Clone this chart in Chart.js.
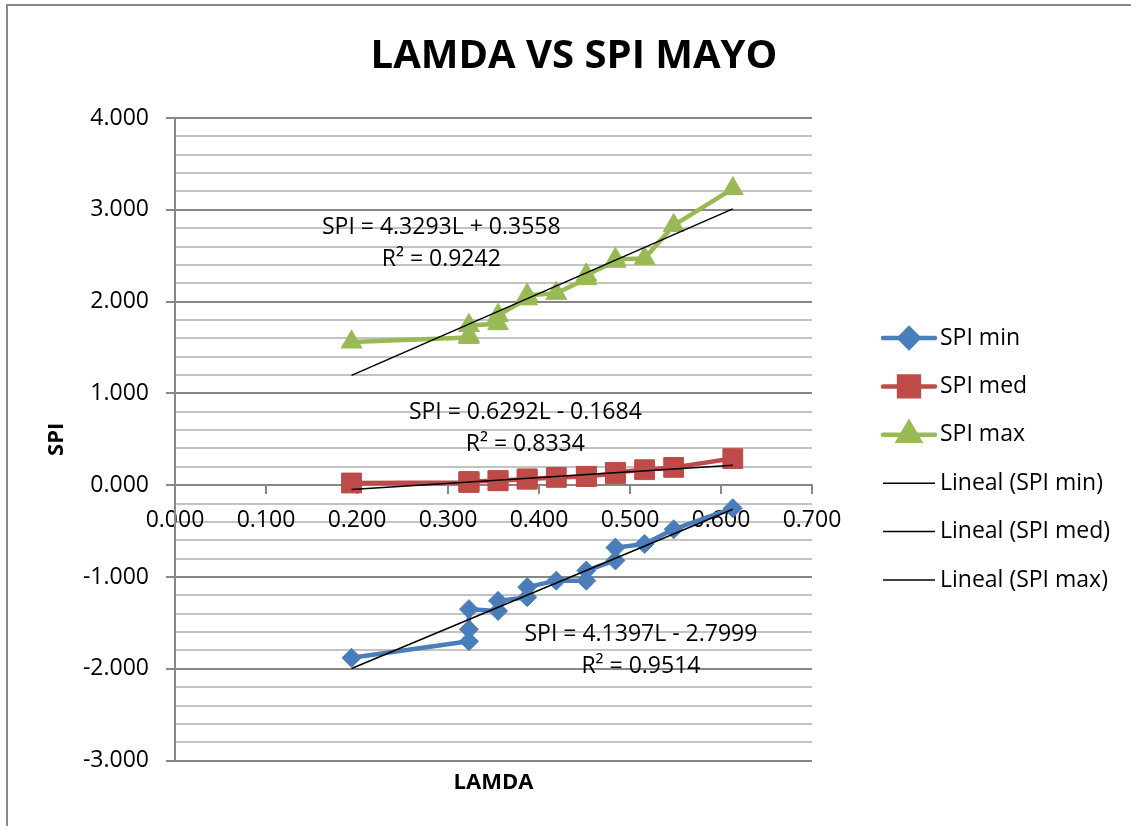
<!DOCTYPE html>
<html>
<head>
<meta charset="utf-8">
<title>LAMDA VS SPI MAYO</title>
<script src="https://cdn.jsdelivr.net/npm/chart.js@4.4.1/dist/chart.umd.min.js"></script>
<style>
  html, body { margin: 0; padding: 0; background: #fff; overflow: hidden; }
  #frame { position: absolute; left: 6px; top: 4px; width: 1200px; height: 900px; border: 2px solid #898989; }
  #chart { position: absolute; left: 0; top: 0; }
</style>
</head>
<body>
<div id="frame"></div>
<canvas id="chart" width="1131" height="826"></canvas>
<script>
// lamda = share of days in May, one value per row
const lamda  = [0.194, 0.323, 0.323, 0.323, 0.355, 0.355, 0.387, 0.387, 0.419, 0.452, 0.452, 0.484, 0.484, 0.516, 0.548, 0.613];
const spiMin = [-1.88, -1.70, -1.57, -1.35, -1.37, -1.26, -1.22, -1.11, -1.04, -1.04, -0.93, -0.82, -0.68, -0.64, -0.48, -0.25];
const spiMed = [0.024, 0.030, 0.035, 0.040, 0.048, 0.050, 0.066, 0.068, 0.085, 0.095, 0.097, 0.125, 0.140, 0.169, 0.194, 0.290];
const spiMax = [1.56, 1.61, 1.63, 1.74, 1.76, 1.85, 2.03, 2.07, 2.09, 2.25, 2.29, 2.44, 2.46, 2.47, 2.83, 3.23];

const seriesNames = ['SPI min', 'SPI med', 'SPI max'];
const seriesColors = ['#4a7ebb', '#be4b48', '#98b954'];
const markerStyles = ['rectRot', 'rect', 'triangle'];
const markerRadius = [9.5, 14, 12];

// linear trendlines: SPI = slope * L + intercept
const trendSlopes = [4.1397, 0.6292, 4.3293];
const trendIntercepts = [-2.7999, -0.1684, 0.3558];
const trendR2 = ['0.9514', '0.8334', '0.9242'];

// y axis: major lines every 1, minor every 0.2 -> 36 lines from -3 to 4
const yMin = -3, yMax = 4, yLineCount = 36;
const xMin = 0, xMax = 0.7, xStep = 0.1;

// where each trend equation is written (centre of the two lines, in data units)
const equationAnchors = [
  { x: 0.512, y: -1.805 },
  { x: 0.385, y: 0.616 },
  { x: 0.2926, y: 2.634 }
];

Chart.defaults.font.family = '"Open Sans", sans-serif';
Chart.defaults.color = '#000';

const FONT_SIZE = 23;
const MAJOR = '#878787';
const MINOR = '#c3c3c3';

const isWhole = v => Math.abs(v - Math.round(v)) < 1e-6;

const allSeries = [spiMin, spiMed, spiMax];
const lo = Math.min(...lamda);
const hi = Math.max(...lamda);

const seriesSets = allSeries.map((vals, i) => ({
  label: seriesNames[i],
  data: lamda.map((l, k) => ({ x: l, y: vals[k] })),
  showLine: true,
  borderColor: seriesColors[i],
  backgroundColor: seriesColors[i],
  borderWidth: 4.5,
  borderJoinStyle: 'round',
  borderCapStyle: 'round',
  pointStyle: markerStyles[i],
  pointRadius: markerRadius[i],
  pointBackgroundColor: seriesColors[i],
  pointBorderColor: seriesColors[i],
  pointBorderWidth: 1,
  order: 1
}));

const trendSets = seriesNames.map((name, i) => ({
  label: 'Lineal (' + name + ')',
  data: [lo, hi].map(l => ({ x: l, y: trendSlopes[i] * l + trendIntercepts[i] })),
  showLine: true,
  borderColor: '#000',
  backgroundColor: '#000',
  borderWidth: 1.5,
  pointRadius: 0,
  order: 0
}));

function equationText(i) {
  const b = trendIntercepts[i];
  return 'SPI = ' + trendSlopes[i].toFixed(4) + 'L ' + (b < 0 ? '- ' : '+ ') + Math.abs(b).toFixed(4);
}

// trend equations and R² written next to each series
const equationLabels = {
  id: 'equationLabels',
  afterDatasetsDraw(chart) {
    const { ctx, scales } = chart;
    ctx.save();
    ctx.font = FONT_SIZE + 'px "Open Sans"';
    ctx.fillStyle = '#000';
    ctx.textAlign = 'center';
    ctx.textBaseline = 'middle';
    equationAnchors.forEach((a, i) => {
      const px = scales.x.getPixelForValue(a.x);
      const py = scales.y.getPixelForValue(a.y);
      ctx.fillText(equationText(i), px, py - 16);
      ctx.fillText('R² = ' + trendR2[i], px, py + 16);
    });
    ctx.restore();
  }
};

// legend column to the right of the plot: line sample, marker, name
const sideLegend = {
  id: 'sideLegend',
  afterDraw(chart) {
    const { ctx, chartArea } = chart;
    const x0 = chartArea.right + 71;
    let y = chartArea.top + 220;
    ctx.save();
    ctx.font = FONT_SIZE + 'px "Open Sans"';
    ctx.textBaseline = 'middle';
    ctx.textAlign = 'left';
    chart.data.datasets.forEach(ds => {
      ctx.strokeStyle = ds.borderColor;
      ctx.lineWidth = ds.borderWidth;
      ctx.lineCap = ds.pointRadius > 0 ? 'round' : 'butt';
      ctx.beginPath();
      ctx.moveTo(x0, y);
      ctx.lineTo(x0 + 52, y);
      ctx.stroke();
      if (ds.pointRadius > 0) {
        ctx.fillStyle = ds.backgroundColor;
        ctx.strokeStyle = ds.backgroundColor;
        Chart.helpers.drawPoint(ctx, { pointStyle: ds.pointStyle, radius: ds.pointRadius, rotation: 0, borderWidth: 1 }, x0 + 26, y);
      }
      ctx.fillStyle = '#000';
      ctx.fillText(ds.label, x0 + 57, y);
      y += 48.4;
    });
    ctx.restore();
  }
};

new Chart(document.getElementById('chart'), {
  type: 'scatter',
  data: { datasets: [...seriesSets, ...trendSets] },
  plugins: [equationLabels, sideLegend],
  options: {
    responsive: false,
    animation: false,
    events: [],
    layout: { padding: { left: 17, top: 0, right: 0, bottom: 30 } },
    plugins: {
      legend: { display: false },
      tooltip: { enabled: false },
      title: {
        display: true,
        text: 'LAMDA VS SPI MAYO',
        font: { size: 40, weight: 'bold' },
        color: '#000',
        padding: { top: 33, bottom: 37 }
      }
    },
    scales: {
      x: {
        type: 'linear',
        position: { y: 0 },
        min: xMin,
        max: xMax,
        ticks: {
          stepSize: xStep,
          autoSkip: false,
          maxRotation: 0,
          padding: 13,
          font: { size: FONT_SIZE },
          callback: v => v.toFixed(3)
        },
        grid: { drawOnChartArea: false, tickLength: 8, color: MAJOR, lineWidth: 2 },
        border: { color: MAJOR, width: 2 }
      },
      // carries only the axis title under the plot
      xTitle: {
        type: 'linear',
        axis: 'x',
        position: 'bottom',
        min: xMin,
        max: xMax,
        ticks: { display: false },
        grid: { display: false },
        border: { display: false },
        title: {
          display: true,
          text: 'LAMDA',
          font: { size: 22, weight: 'bold' },
          color: '#000',
          padding: { top: 1, bottom: 0 }
        }
      },
      y: {
        type: 'linear',
        position: 'left',
        min: yMin,
        max: yMax,
        afterFit(scale) { scale.width = 158; },
        ticks: {
          count: yLineCount,
          autoSkip: false,
          padding: 17,
          font: { size: FONT_SIZE },
          callback: v => isWhole(v) ? v.toFixed(3) : ''
        },
        grid: {
          color: c => isWhole(c.tick.value) ? MAJOR : MINOR,
          tickColor: c => isWhole(c.tick.value) ? MAJOR : 'rgba(0,0,0,0)',
          lineWidth: 2,
          tickLength: 9
        },
        border: { color: MAJOR, width: 2 },
        title: {
          display: true,
          text: 'SPI',
          font: { size: 22, weight: 'bold' },
          color: '#000',
          padding: { top: 27, bottom: 0 }
        }
      },
      // empty right-hand axis that keeps room for the legend column
      legendRoom: {
        type: 'linear',
        axis: 'y',
        position: 'right',
        ticks: { display: false },
        grid: { display: false },
        border: { display: false },
        afterFit(scale) { scale.width = 319; }
      }
    }
  }
});
</script>
</body>
</html>
